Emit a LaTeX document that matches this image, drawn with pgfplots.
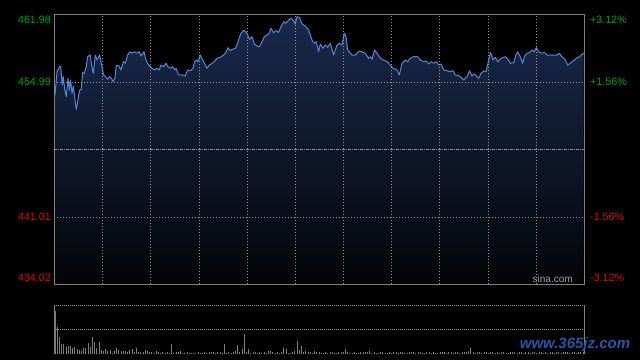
\documentclass[border=0pt]{standalone}
\usepackage{pgfplots}
\usepackage{pgfplotstable}
\pgfplotsset{compat=1.18}
\usepackage{fontspec}
\setmainfont{Liberation Sans}
\definecolor{lgreen}{RGB}{0,165,0}
\definecolor{lred}{RGB}{225,10,10}
\definecolor{framegray}{RGB}{128,128,128}
\definecolor{gridgray}{RGB}{150,150,150}
\definecolor{linecol}{RGB}{80,135,225}
\definecolor{filltop}{RGB}{26,42,76}
\definecolor{fillbot}{RGB}{3,4,8}
\definecolor{volgray}{RGB}{125,125,125}
\definecolor{wmblue}{RGB}{40,85,165}

\pgfplotstableread{
t p
0.7 453.65
2.7 456.07
5.3 456.59
6.3 456.66
8 454.69
9 455.55
10.3 454.35
12 453.48
13.7 455.38
15 454.17
16.3 455.21
17.7 453.83
19 454.59
20.3 453.48
22 452.17
23.7 453.13
25.3 454.17
27 454.24
28.3 455.97
30 455.90
32 456.59
33.3 457.62
36 457.80
37.3 456.76
39 455.90
41 457.80
42.7 457.28
45.3 457.80
47 456.94
49.3 455.73
51.3 455.55
53.3 455.28
55 455.55
57 455.38
59 455.03
60.7 455.49
62 456.76
64.7 456.66
66.7 456.25
69.3 457.11
71 456.94
73.3 457.80
76 458.14
78 457.98
80 458.14
82.7 457.98
85 458.14
86.7 457.70
89.7 458.14
91.7 457.28
94.3 456.76
97.7 456.42
100.3 456.25
102.7 456.42
104.7 456.25
106.7 456.76
109.3 456.59
111.7 456.94
113.7 456.59
116 456.42
118.3 456.59
120.3 456.25
121.7 456.42
124.3 455.73
127.7 455.73
131 455.62
133.3 456.25
136 456.17
138.7 456.42
140.3 457.11
142 457.28
143.7 457.11
146 457.80
148.3 457.28
150.3 456.94
152.7 456.42
155 456.76
157.7 456.94
160 457.11
162.7 457.46
166 457.56
169.3 457.80
172 458.14
173.7 458.56
176 458.25
178.3 458.39
181 458.50
182.7 458.84
184.7 459.53
186.7 460.05
189.7 460.39
192.7 460.05
195.3 459.43
197.7 459.70
200 458.94
202.7 458.73
205 458.66
207.7 459.18
210 459.70
212.7 459.87
214.7 460.05
216.7 460.57
219.3 460.11
221.7 460.32
224.3 460.15
226.7 460.74
229.3 461.25
231.7 461.09
234.3 461.43
236.7 461.61
239.3 461.36
241 461.02
242.7 461.77
245 461.71
247.7 461.02
251 460.81
254.3 460.39
257.7 459.36
260 459.01
262 459.18
264.3 458.14
266 458.94
268.7 458.50
271 458.84
273.3 458.60
276 459.01
279.3 457.80
282.7 458.84
285 459.01
287.7 458.84
290 460.05
291.7 459.70
293.3 458.32
297.7 457.80
301 457.80
304.3 458.14
307.7 458.14
311 457.98
314.3 457.46
316 457.62
317.7 457.35
320.3 458.32
322.7 457.98
326 457.46
329.3 457.28
332.7 457.11
336 456.76
338.7 456.42
342.7 456.25
345 455.73
347.7 456.94
351 457.28
353.3 457.11
356 457.46
359.3 457.62
363.3 457.62
366 457.28
369.3 457.11
372 457.18
374.3 456.87
377 457.11
379.3 456.94
382 457.11
384.3 456.76
386.7 456.87
389.3 456.25
392.7 456.17
396 456.07
398.7 456.17
401 455.73
405.3 455.62
409.3 455.21
412.7 455.55
415.3 456.17
417.7 455.62
420 455.83
422.7 455.55
424.3 455.38
426.7 455.90
429.3 456.14
431.7 456.07
433.7 456.94
436.3 458.08
438.7 457.28
441 457.56
443.3 457.11
446 457.35
448.7 457.56
451.3 457.62
453.7 457.35
456 456.94
459.3 457.00
461.7 457.80
463.3 458.14
466 457.62
468.3 456.94
470.3 457.70
472.7 457.98
475.3 458.04
477.7 458.32
480 458.14
482 458.56
484.3 458.14
487.7 457.98
490 458.08
492.7 457.80
497.7 457.80
502.7 457.80
505 457.98
507.7 457.62
511 457.28
513.3 456.76
516 456.94
519.3 457.21
522 457.46
524.3 457.56
527 457.80
529.3 457.98
}\pricedata

\pgfplotstableread{
v
43
27
17.6
10.3
10.3
7.6
8
8
6.6
7.6
5
4.3
3.6
6.6
6.6
11.3
7.6
17.3
12.3
6
12.3
4.3
3.6
5
3.6
4.3
1.6
3.6
6
4.3
3
3
3.6
2.3
4.3
5
2.6
6
2
2.6
2.6
4.3
3
2
2.3
1.6
3.6
2
1.5
2.6
1.6
2
1.3
10
1.5
2
2.6
3.3
1.6
1.3
2.3
1.6
1.3
1.6
1.2
2
1.6
1.3
2
1.6
2.3
2
2.6
1.6
2.3
2
1.6
10.3
1.6
2.3
1.3
2
3
9
2
5
20.3
2.6
5
1.6
2.6
2
1.6
2.3
1.3
2
1.6
3.5
3.5
2.3
1.6
2.6
1.3
2.3
6
5
1.6
1.3
2
3
13
4
8
2.6
3
2
2.6
1.6
3
2
2.3
1.6
1.3
2
1.6
2
2.3
1.6
1.3
2.3
2
2.6
5
2
1.6
1.3
2
1.6
1.3
2
2.3
2.6
2
3.6
1.6
2
1.3
1.6
2
2.3
1.6
1.3
2
1.6
2.6
2
1.6
2.3
2
1.3
1.6
2.3
2.6
2
1.6
2
2.3
1.6
1.3
2
2.3
1.6
2
1.3
1.6
2.3
2
2.6
1.6
2
2.3
1.6
2
2.6
1.3
2
2.3
2.6
3
6
2
1.6
2.3
2
1.3
2
2.6
1.6
2
2.3
1.3
2
1.6
2.6
2
1.3
1.6
2.3
2
2.6
1.6
2
2.3
1.3
2
2.6
1.6
2
2.3
1.6
2
2.3
1.6
2
1.3
2.6
2
1.6
2.3
2
1.6
2.3
2
2.6
1.6
2
2.3
1.6
2
2.3
2.6
}\voldata

\newcommand{\labfont}{\fontsize{10.7}{12}\selectfont}

\begin{document}
\begin{tikzpicture}[x=1pt,y=1pt]
\fill[black] (0,0) rectangle (640,360);
\useasboundingbox (0,0) rectangle (640,360);

\begin{axis}[
  at={(54.3pt,75.7pt)}, anchor=south west,
  width=530pt, height=269.6pt, scale only axis,
  xmin=0, xmax=530, ymin=434.02, ymax=461.98,
  axis line style={framegray, line width=0.8pt},
  xtick={48.18,96.36,144.55,192.73,240.91,289.09,337.27,385.45,433.64,481.82},
  ytick={441.01,454.99},
  xticklabels={}, yticklabels={},
  major tick length=0pt,
  xmajorgrids, ymajorgrids,
  grid style={gridgray, line width=0.7pt, dash pattern=on 1pt off 2pt},
  extra y ticks={448},
  extra y tick labels={},
  extra y tick style={grid=major, grid style={gridgray, line width=0.7pt, dash pattern=on 3pt off 1pt on 1pt off 1pt}},
  axis on top,
  clip=false,
]
\addplot[draw=none, top color=filltop, bottom color=fillbot] table[x=t, y=p] {\pricedata}
  -- (axis cs:529.3,434.02) -- (axis cs:0.7,434.02) -- cycle;
\addplot[linecol, line width=1pt, line join=round] table[x=t, y=p] {\pricedata};
\end{axis}

\begin{axis}[
  at={(54.3pt,5.7pt)}, anchor=south west,
  width=530pt, height=49.3pt, scale only axis,
  xmin=0, xmax=530, ymin=0, ymax=49.3,
  separate axis lines,
  x axis line style={draw=none},
  y axis line style={framegray, line width=0.8pt},
  xtick=\empty,
  ytick={24.65,49.3}, yticklabels={},
  major tick length=0pt,
  ymajorgrids,
  grid style={gridgray, line width=0.7pt, dash pattern=on 1pt off 1pt},
  clip=false,
]
\addplot[ycomb, volgray, line width=0.9pt, mark=none] table[x expr=\coordindex*2.2+0.7, y=v] {\voldata};
\end{axis}

% left labels
\node[anchor=east, text=lgreen, font=\labfont, inner sep=0pt] at (51,340) {461.98};
\node[anchor=east, text=lgreen, font=\labfont, inner sep=0pt] at (51,278) {454.99};
\node[anchor=east, text=lred, font=\labfont, inner sep=0pt] at (51,142.7) {441.01};
\node[anchor=east, text=lred, font=\labfont, inner sep=0pt] at (51,82) {434.02};
% right labels
\node[anchor=west, text=lgreen, font=\labfont, inner sep=0pt] at (590,340) {+3.12\%};
\node[anchor=west, text=lgreen, font=\labfont, inner sep=0pt] at (590,278) {+1.56\%};
\node[anchor=west, text=lred, font=\labfont, inner sep=0pt] at (590,142.7) {-1.56\%};
\node[anchor=west, text=lred, font=\labfont, inner sep=0pt] at (590,82) {-3.12\%};
% source
\node[anchor=center, text=gridgray!90!white, font=\fontsize{10}{12}\selectfont, inner sep=0pt] at (552.7,81) {sina.com};
% watermark
\node[anchor=center, text=wmblue, font=\fontsize{15}{17}\selectfont\bfseries\itshape, inner sep=0pt] at (575,15) {www.365jz.com};
\end{tikzpicture}
\end{document}
